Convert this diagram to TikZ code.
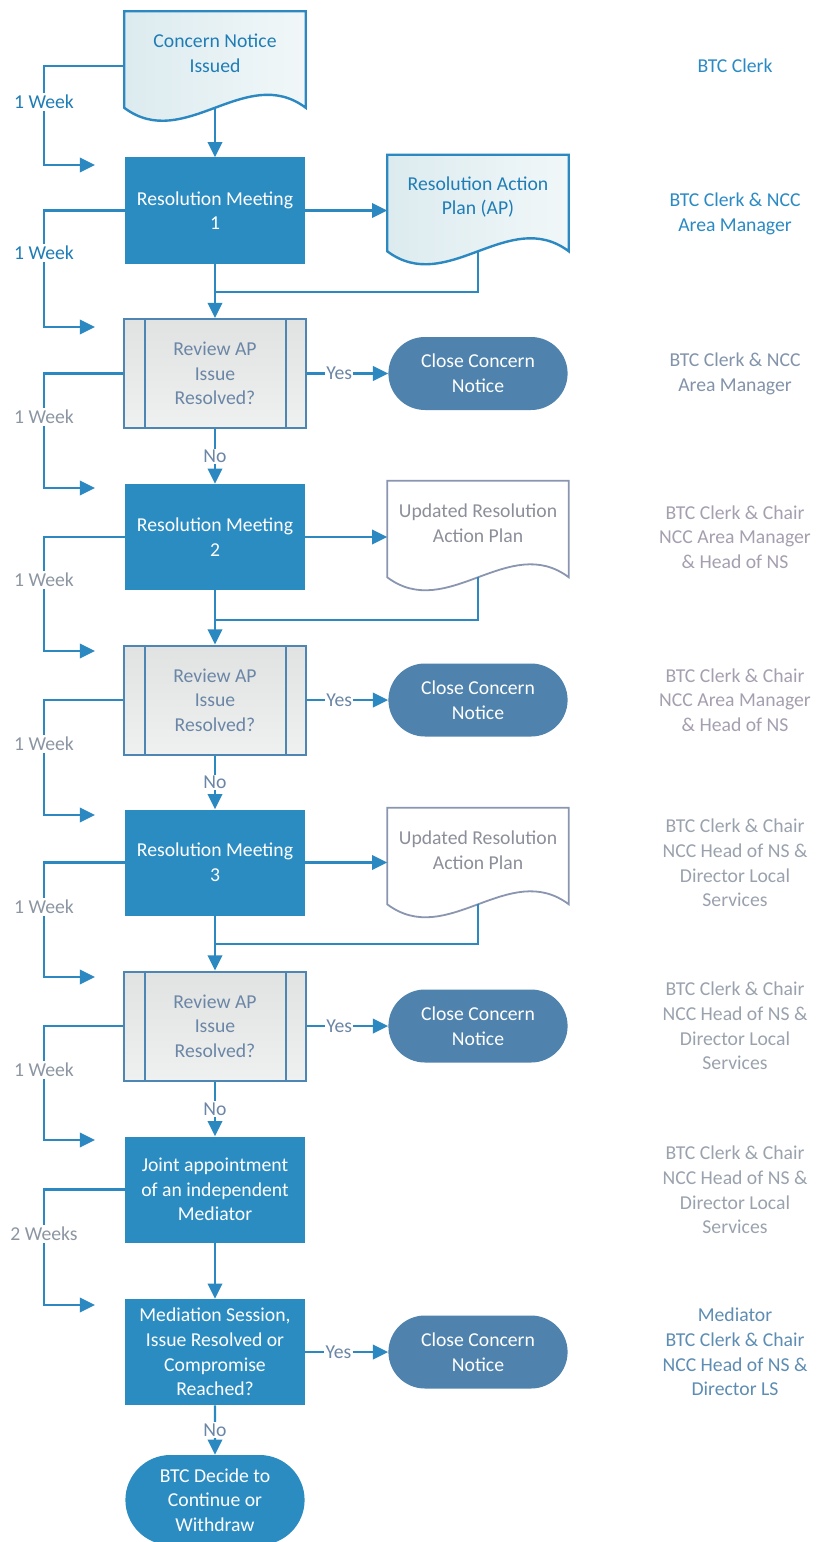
\documentclass[tikz,border=0pt]{standalone}
\usepackage{fontspec}
\setmainfont{Carlito}
\usepackage[dvipsnames]{xcolor}
\usepackage{tikz}
\usetikzlibrary{arrows.meta,shapes.misc,backgrounds}

\definecolor{flowblue}{HTML}{2C88C0}
\definecolor{meetfill}{HTML}{2B8CC2}
\definecolor{closefill}{HTML}{4F83AD}
\definecolor{docfill}{HTML}{DCEBEF}
\definecolor{doctext}{HTML}{1F7DB6}
\definecolor{revfill}{HTML}{EEF1F0}
\definecolor{revline}{HTML}{4D86B2}
\definecolor{revtext}{HTML}{6B86A6}
\definecolor{updline}{HTML}{8A96B0}
\definecolor{updtext}{HTML}{8C8F9A}
\definecolor{roleblue}{HTML}{2A8AC4}
\definecolor{rolegrey}{HTML}{8293AA}
\definecolor{rolepink}{HTML}{A59FB0}
\definecolor{rolefade}{HTML}{9AA2AE}
\definecolor{rolemed}{HTML}{5E8DB3}
\definecolor{wkgrey}{HTML}{8C96A2}

% document symbol with a wavy bottom edge
\newcommand{\docshape}[2]{%
  \draw[#2] (#1.north west) -- (#1.north east) -- ([shift={(0,12)}]#1.south east)
    .. controls ([shift={(-60,-33)}]#1.south east) and ([shift={(60,57)}]#1.south west)
    .. ([shift={(0,12)}]#1.south west) -- cycle;}

\begin{document}
\begin{tikzpicture}[x=0.25mm,y=-0.25mm,
  every node/.style={font=\fontsize{14}{17.5}\selectfont,align=center},
  flow/.style={draw=flowblue,line width=0.6mm},
  arr/.style={flow,-{Triangle[length=3.8mm,width=3.6mm]}},
  meeting/.style={fill=meetfill,text=white,minimum width=45mm,minimum height=26.5mm,inner sep=1pt},
  review/.style={draw=revline,line width=0.5mm,top color=revfill!70!gray!60!white,bottom color=revfill,
    text=revtext,minimum width=45.25mm,minimum height=27.25mm,inner sep=1pt},
  closer/.style={rounded rectangle,fill=closefill,text=white,
    minimum width=45.5mm,minimum height=18.25mm,inner sep=1pt},
  docnode/.style={minimum width=45.25mm,minimum height=21mm,inner sep=1pt},
  wk/.style={fill=white,inner sep=1.5pt},
  yes/.style={fill=white,text=revtext,inner sep=1pt},
  role/.style={inner sep=1pt}
]
  \useasboundingbox (0,0) rectangle (819,1542);

  % main column
  \node[docnode,text=doctext] (cn) at (215,53.5) {Concern Notice\\Issued};
  \node[meeting] (rm1) at (215,210.5) {Resolution Meeting\\1};
  \node[docnode,text=doctext] (ap) at (478,197) {Resolution Action\\Plan (AP)};
  \node[review] (rv1) at (215,373.5) {Review AP\\Issue\\Resolved?};
  \node[closer] (cl1) at (478,373.5) {Close Concern\\Notice};
  \node[meeting] (rm2) at (215,537) {Resolution Meeting\\2};
  \node[docnode,text=updtext] (ud1) at (478,523) {Updated Resolution\\Action Plan};
  \node[review] (rv2) at (215,700) {Review AP\\Issue\\Resolved?};
  \node[closer] (cl2) at (478,700) {Close Concern\\Notice};
  \node[meeting] (rm3) at (215,862.5) {Resolution Meeting\\3};
  \node[docnode,text=updtext] (ud2) at (478,850) {Updated Resolution\\Action Plan};
  \node[review] (rv3) at (215,1026) {Review AP\\Issue\\Resolved?};
  \node[closer] (cl3) at (478,1026) {Close Concern\\Notice};
  \node[meeting] (ja) at (215,1189.5) {Joint appointment\\of an independent\\Mediator};
  \node[meeting] (ms) at (215,1352) {Mediation Session,\\Issue Resolved or\\Compromise\\Reached?};
  \node[closer] (cl4) at (478,1352) {Close Concern\\Notice};
  \node[closer,fill=meetfill,minimum height=22.5mm] (bd) at (215,1500) {BTC Decide to\\Continue or\\Withdraw};

  \begin{scope}[on background layer]
    \fill[white] (0,0) rectangle (819,1542);
    \docshape{cn}{draw=flowblue,line width=0.6mm,left color=docfill,right color=docfill!40}
    \docshape{ap}{draw=flowblue,line width=0.6mm,left color=docfill,right color=docfill!40}
    \docshape{ud1}{draw=updline,line width=0.45mm,fill=white}
    \docshape{ud2}{draw=updline,line width=0.45mm,fill=white}
  \end{scope}

  % side bars of the review boxes
  \foreach \r in {rv1,rv2,rv3} {
    \draw[revline,line width=0.5mm] ([xshift=5.25mm]\r.north west) -- ([xshift=5.25mm]\r.south west);
    \draw[revline,line width=0.5mm] ([xshift=-5.25mm]\r.north east) -- ([xshift=-5.25mm]\r.south east);
  }

  % roles
  \node[role,text=roleblue] (r1) at (735,66) {BTC Clerk};
  \node[role,text=roleblue] (r2) at (735,214) {BTC Clerk \& NCC\\Area Manager};
  \node[role,text=rolegrey] (r3) at (735,374) {BTC Clerk \& NCC\\Area Manager};
  \node[role,text=rolepink] (r4) at (735,537) {BTC Clerk \& Chair\\NCC Area Manager\\\& Head of NS};
  \node[role,text=rolepink] (r5) at (735,700) {BTC Clerk \& Chair\\NCC Area Manager\\\& Head of NS};
  \node[role,text=rolefade] (r6) at (735,863) {BTC Clerk \& Chair\\NCC Head of NS \&\\Director Local\\Services};
  \node[role,text=rolefade] (r7) at (735,1026) {BTC Clerk \& Chair\\NCC Head of NS \&\\Director Local\\Services};
  \node[role,text=rolefade] (r8) at (735,1190) {BTC Clerk \& Chair\\NCC Head of NS \&\\Director Local\\Services};
  \node[role,text=rolemed] (r9) at (735,1352) {Mediator\\BTC Clerk \& Chair\\NCC Head of NS \&\\Director LS};

  % waiting times
  \node[wk,text=doctext] (wk1) at (44,102) {1 Week};
  \node[wk,text=doctext] (wk2) at (44,253) {1 Week};
  \node[wk,text=wkgrey] (wk3) at (44,417) {1 Week};
  \node[wk,text=wkgrey] (wk4) at (44,580) {1 Week};
  \node[wk,text=wkgrey] (wk5) at (44,744) {1 Week};
  \node[wk,text=wkgrey] (wk6) at (44,907) {1 Week};
  \node[wk,text=wkgrey] (wk7) at (44,1070) {1 Week};
  \node[wk,text=wkgrey] (wk8) at (44,1234) {2 Weeks};

  \coordinate (w1) at (95,165);
  \coordinate (w2) at (95,327);
  \coordinate (w3) at (95,488);
  \coordinate (w4) at (95,651);
  \coordinate (w5) at (95,815);
  \coordinate (w6) at (95,977);
  \coordinate (w7) at (95,1140);
  \coordinate (w8) at (95,1305);
  \coordinate (cnw) at ([shift={(0,12)}]cn.south);
  \coordinate (apw) at ([shift={(0,12)}]ap.south);
  \coordinate (ud1w) at ([shift={(0,12)}]ud1.south);
  \coordinate (ud2w) at ([shift={(0,12)}]ud2.south);
  \coordinate (j1) at (215,292);
  \coordinate (j2) at (215,620);
  \coordinate (j3) at (215,944);

  \draw[arr] ([shift={(0,12.5)}]cn.west) -| (wk1) |- (w1);
  \draw[arr] (rm1.west) -| (wk2) |- (w2);
  \draw[arr] (rv1.west) -| (wk3) |- (w3);
  \draw[arr] (rm2.west) -| (wk4) |- (w4);
  \draw[arr] (rv2.west) -| (wk5) |- (w5);
  \draw[arr] (rm3.west) -| (wk6) |- (w6);
  \draw[arr] (rv3.west) -| (wk7) |- (w7);
  \draw[arr] (ja.west) -| (wk8) |- (w8);

  % flow
  \draw[arr] (cnw) -- (rm1);
  \draw[arr] (rm1.east) -- (rm1.east -| ap.west);
  \draw[arr] (rm1) -- (rv1);
  \draw[flow] (apw) |- (j1);
  \draw[arr] (rv1) -- node[yes,pos=0.4]{Yes} (cl1);
  \draw[arr] (rv1) -- node[yes]{No} (rm2);
  \draw[arr] (rm2.east) -- (rm2.east -| ud1.west);
  \draw[arr] (rm2) -- (rv2);
  \draw[flow] (ud1w) |- (j2);
  \draw[arr] (rv2) -- node[yes,pos=0.4]{Yes} (cl2);
  \draw[arr] (rv2) -- node[yes]{No} (rm3);
  \draw[arr] (rm3.east) -- (rm3.east -| ud2.west);
  \draw[arr] (rm3) -- (rv3);
  \draw[flow] (ud2w) |- (j3);
  \draw[arr] (rv3) -- node[yes,pos=0.4]{Yes} (cl3);
  \draw[arr] (rv3) -- node[yes]{No} (ja);
  \draw[arr] (ja) -- (ms);
  \draw[arr] (ms) -- node[yes,pos=0.4]{Yes} (cl4);
  \draw[arr] (ms) -- node[yes]{No} (bd);
\end{tikzpicture}
\end{document}
